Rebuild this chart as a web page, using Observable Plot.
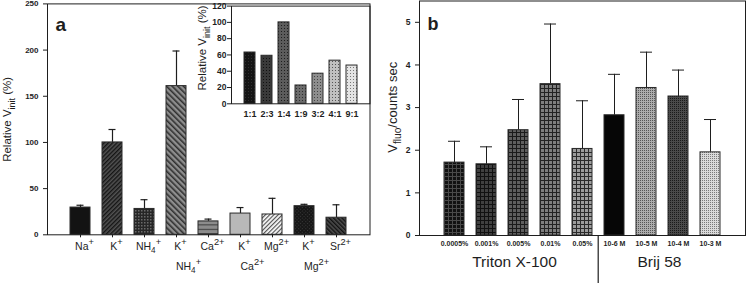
<!DOCTYPE html>
<html>
<head>
<meta charset="utf-8">
<script src="https://cdn.jsdelivr.net/npm/d3@7"></script>
<script src="https://cdn.jsdelivr.net/npm/@observablehq/plot@0.6"></script>
<style>
  html, body { margin: 0; padding: 0; background: #fff; }
  #wrap { position: relative; width: 746px; height: 283px; overflow: hidden; background: #fff; }
  .panel { position: absolute; top: 0; }
  svg { overflow: visible; }
</style>
</head>
<body>
<svg width="0" height="0" style="position:absolute">
  <defs>
    <!-- panel a -->
    <pattern id="aK" width="3" height="3" patternUnits="userSpaceOnUse" patternTransform="rotate(45)">
      <rect width="3" height="3" fill="#525252"/><line x1="0.7" y1="0" x2="0.7" y2="3" stroke="#151515" stroke-width="1.4"/>
    </pattern>
    <pattern id="aNH4" width="3" height="3" patternUnits="userSpaceOnUse">
      <rect width="3" height="3" fill="#262626"/><rect width="1.5" height="1.5" fill="#6a6a6a"/>
    </pattern>
    <pattern id="aKNH4" width="4" height="4" patternUnits="userSpaceOnUse" patternTransform="rotate(-45)">
      <rect width="4" height="4" fill="#8e8e8e"/><line x1="0.8" y1="0" x2="0.8" y2="4" stroke="#2a2a2a" stroke-width="1.5"/>
    </pattern>
    <pattern id="aCa" width="4" height="4.4" patternUnits="userSpaceOnUse">
      <rect width="4" height="4.4" fill="#8c8c8c"/><line x1="0" y1="0.5" x2="4" y2="0.5" stroke="#3a3a3a" stroke-width="1"/>
    </pattern>
    <pattern id="aMg" width="3" height="3" patternUnits="userSpaceOnUse" patternTransform="rotate(45)">
      <rect width="3" height="3" fill="#fafafa"/><line x1="0.6" y1="0" x2="0.6" y2="3" stroke="#4a4a4a" stroke-width="1.1"/>
    </pattern>
    <pattern id="aKMg" width="2.5" height="2.5" patternUnits="userSpaceOnUse" patternTransform="rotate(45)">
      <rect width="2.5" height="2.5" fill="#161616"/><rect width="1" height="1" fill="#3e3e3e"/>
    </pattern>
    <pattern id="aSr" width="3" height="3" patternUnits="userSpaceOnUse" patternTransform="rotate(-45)">
      <rect width="3" height="3" fill="#4e4e4e"/><line x1="0.7" y1="0" x2="0.7" y2="3" stroke="#121212" stroke-width="1.4"/>
    </pattern>
    <!-- inset -->
    <pattern id="i1" width="3" height="3" patternUnits="userSpaceOnUse"><rect width="3" height="3" fill="#141414"/><rect x="1" y="1" width="1" height="1" fill="#303030"/></pattern>
    <pattern id="i2" width="3" height="3" patternUnits="userSpaceOnUse"><rect width="3" height="3" fill="#3a3a3a"/><rect x="1" y="1" width="1" height="1" fill="#111"/></pattern>
    <pattern id="i3" width="3" height="3" patternUnits="userSpaceOnUse"><rect width="3" height="3" fill="#5c5c5c"/><rect x="1" y="1" width="1" height="1" fill="#1e1e1e"/></pattern>
    <pattern id="i4" width="3" height="3" patternUnits="userSpaceOnUse"><rect width="3" height="3" fill="#6c6c6c"/><rect x="1" y="1" width="1" height="1" fill="#2e2e2e"/></pattern>
    <pattern id="i5" width="3" height="3" patternUnits="userSpaceOnUse"><rect width="3" height="3" fill="#8e8e8e"/><rect x="1" y="1" width="1" height="1" fill="#444"/></pattern>
    <pattern id="i6" width="3" height="3" patternUnits="userSpaceOnUse"><rect width="3" height="3" fill="#c0c0c0"/><rect x="1" y="1" width="1" height="1" fill="#555"/></pattern>
    <pattern id="i7" width="3" height="3" patternUnits="userSpaceOnUse"><rect width="3" height="3" fill="#e4e4e4"/><rect x="1" y="1" width="1" height="1" fill="#777"/></pattern>
    <!-- panel b -->
    <pattern id="b1" width="4" height="4" patternUnits="userSpaceOnUse"><rect width="4" height="4" fill="#111"/><path d="M0.5 0V4M0 0.5H4" stroke="#4a4a4a" stroke-width="1"/></pattern>
    <pattern id="b2" width="4" height="4" patternUnits="userSpaceOnUse"><rect width="4" height="4" fill="#404040"/><path d="M0.5 0V4M0 0.5H4" stroke="#111" stroke-width="1"/></pattern>
    <pattern id="b3" width="4" height="4" patternUnits="userSpaceOnUse"><rect width="4" height="4" fill="#5e5e5e"/><path d="M0.5 0V4M0 0.5H4" stroke="#1a1a1a" stroke-width="1"/></pattern>
    <pattern id="b4" width="4" height="4" patternUnits="userSpaceOnUse"><rect width="4" height="4" fill="#7e7e7e"/><path d="M0.5 0V4M0 0.5H4" stroke="#222" stroke-width="1"/></pattern>
    <pattern id="b5" width="4" height="4" patternUnits="userSpaceOnUse"><rect width="4" height="4" fill="#9c9c9c"/><path d="M0.5 0V4M0 0.5H4" stroke="#2a2a2a" stroke-width="1"/></pattern>
    <pattern id="b7" width="2" height="2" patternUnits="userSpaceOnUse"><rect width="2" height="2" fill="#acacac"/><rect width="1" height="1" fill="#555"/></pattern>
    <pattern id="b8" width="2" height="2" patternUnits="userSpaceOnUse"><rect width="2" height="2" fill="#4a4a4a"/><rect width="1" height="1" fill="#1a1a1a"/></pattern>
    <pattern id="b9" width="2" height="2" patternUnits="userSpaceOnUse"><rect width="2" height="2" fill="#dadada"/><rect width="1" height="1" fill="#7a7a7a"/></pattern>
  </defs>
</svg>
<div id="wrap">
  <div class="panel" id="pa" style="left:0"></div>
  <div class="panel" id="pin" style="left:190px"></div>
  <div class="panel" id="pb" style="left:380px"></div>
</div>
<script>
// ---------- data: panel a ----------
const catsA = ["Na+", "K+", "NH4+", "K+ NH4+", "Ca2+", "K+ Ca2+", "Mg2+", "K+ Mg2+", "Sr2+"];
const labelsA1 = ["Na^{+}", "K^{+}", "NH_{4}^{+}", "K^{+}", "Ca^{2+}", "K^{+}", "Mg^{2+}", "K^{+}", "Sr^{2+}"];
const labelsA2 = ["", "", "", "NH_{4}^{+}", "", "Ca^{2+}", "", "Mg^{2+}", ""];
const valuesA = [29.5, 100, 28, 161, 14.5, 23, 22, 31, 18.5];
const errorsA = [2.5, 14, 10, 38, 2.5, 6.5, 17.5, 2, 14];
const ticksA = [0, 50, 100, 150, 200, 250];
const yLabelA = "Relative V_{init} (%)";

// ---------- data: inset ----------
const catsIn = ["1:1", "2:3", "1:4", "1:9", "3:2", "4:1", "9:1"];
const valuesIn = [63, 59, 100, 22.5, 37, 53, 47];
const ticksIn = [0, 20, 40, 60, 80, 100, 120];

// ---------- data: panel b ----------
const catsB = ["0.0005%", "0.001%", "0.005%", "0.01%", "0.05%", "10-6 M", "10-5 M", "10-4 M", "10-3 M"];
const valuesB = [1.71, 1.67, 2.47, 3.55, 2.03, 2.82, 3.46, 3.26, 1.95];
const errorsB = [0.50, 0.41, 0.72, 1.41, 1.13, 0.96, 0.84, 0.62, 0.77];
const ticksB = [0, 1, 2, 3, 4, 5];
const groupsB = ["Triton X-100", "Brij 58"];
const yLabelB = "V_{fluo}/counts sec";

// ---------- styles ----------
const fillsA = ["#131313", "url(#aK)", "url(#aNH4)", "url(#aKNH4)", "url(#aCa)", "#b8b8b8", "url(#aMg)", "url(#aKMg)", "url(#aSr)"];
const fillsIn = ["url(#i1)", "url(#i2)", "url(#i3)", "url(#i4)", "url(#i5)", "url(#i6)", "url(#i7)"];
const fillsB = ["url(#b1)", "url(#b2)", "url(#b3)", "url(#b4)", "url(#b5)", "#060606", "url(#b7)", "url(#b8)", "url(#b9)"];
const FONT = "'Liberation Sans', Arial, sans-serif";
const INK = "#1e1e1e";

const dataA = catsA.map((c, i) => ({cat: c, v: valuesA[i], e: errorsA[i], l1: labelsA1[i], l2: labelsA2[i]}));
const dataIn = catsIn.map((c, i) => ({cat: c, v: valuesIn[i]}));
const dataB = catsB.map((c, i) => ({cat: c, v: valuesB[i], e: errorsB[i]}));

const baseStyle = {fontFamily: FONT, fontSize: "10px", color: INK, background: "transparent", overflow: "visible"};

function richify(svg) {
  d3.select(svg).selectAll("text").each(function () {
    const s = this.textContent;
    if (!/[_^]\{/.test(s)) return;
    const fs = parseFloat(getComputedStyle(this).fontSize) || 10;
    const t = d3.select(this);
    t.text(null);
    let shift = 0;
    for (const part of s.split(/([_^]\{[^}]*\})/)) {
      if (!part) continue;
      let txt = part, target = 0, size = null;
      if (part.startsWith("_{")) { txt = part.slice(2, -1); target = 0.3 * fs; size = 0.78 * fs; }
      else if (part.startsWith("^{")) { txt = part.slice(2, -1); target = -0.5 * fs; size = 0.88 * fs; }
      const ts = t.append("tspan").attr("dy", target - shift).text(txt);
      if (size) ts.attr("font-size", size);
      shift = target;
    }
  });
}

// ---------- panel a ----------
const plotA = Plot.plot({
  width: 380, height: 283,
  marginLeft: 47, marginRight: 10.5, marginTop: 3.4, marginBottom: 48.7,
  style: baseStyle,
  x: {domain: catsA, paddingInner: 0.385, paddingOuter: 0.66, axis: null},
  y: {domain: [0, 250], axis: null},
  color: {domain: catsA, range: fillsA},
  marks: [
    Plot.ruleX(dataA, {x: "cat", y1: "v", y2: d => d.v + d.e, stroke: INK, strokeWidth: 1.2}),
    Plot.tickY(dataA, {x: "cat", y: d => d.v + d.e, stroke: INK, strokeWidth: 1.2, insetLeft: 6.5, insetRight: 6.5}),
    Plot.barY(dataA, {x: "cat", y: "v", fill: "cat", stroke: "#2a2a2a", strokeWidth: 1}),
    Plot.axisX({tickSize: 3, tickFormat: () => "", label: null, stroke: INK}),
    Plot.axisY({ticks: ticksA, tickSize: 4, tickPadding: 5, fontSize: 8, fontWeight: "bold", label: null, stroke: INK}),
    Plot.frame({stroke: INK, strokeWidth: 1}),
    Plot.text(dataA, {x: "cat", text: "l1", frameAnchor: "bottom", dy: 15, dx: 4, fontSize: 10.5}),
    Plot.text(dataA.filter(d => d.l2), {x: "cat", text: "l2", frameAnchor: "bottom", dy: 35, dx: 12, fontSize: 10.5}),
    Plot.text([yLabelA], {text: d => d, frameAnchor: "left", textAnchor: "middle", rotate: -90, dx: -40, fontSize: 11.5}),
    Plot.text(["a"], {text: d => d, frameAnchor: "top-left", textAnchor: "start", dx: 8, dy: 13.6, fontSize: 19, fontWeight: "bold"})
  ]
});
document.getElementById("pa").append(plotA);
richify(plotA);

// ---------- inset ----------
const plotIn = Plot.plot({
  width: 185, height: 125,
  marginLeft: 41, marginRight: 5.5, marginTop: 5.6, marginBottom: 21.7,
  style: baseStyle,
  x: {domain: catsIn, paddingInner: 0.371, paddingOuter: 0.628, axis: null},
  y: {domain: [0, 120], axis: null},
  color: {domain: catsIn, range: fillsIn},
  marks: [
    Plot.barY(dataIn, {x: "cat", y: "v", fill: "cat", stroke: "#2a2a2a", strokeWidth: 1}),
    Plot.axisX({tickSize: 0, tickPadding: 7, fontSize: 9, fontWeight: "bold", label: null}),
    Plot.axisY({ticks: ticksIn, tickSize: 4, tickPadding: 1, fontSize: 8.5, fontWeight: "bold", label: null, stroke: INK}),
    Plot.frame({stroke: INK, strokeWidth: 1}),
    Plot.text([yLabelA], {text: d => d, frameAnchor: "left", textAnchor: "middle", rotate: -90, dx: -29, dy: -7, fontSize: 11.5})
  ]
});
document.getElementById("pin").append(plotIn);
richify(plotIn);

// ---------- panel b ----------
const plotB = Plot.plot({
  width: 366, height: 283,
  marginLeft: 39, marginRight: 1, marginTop: 0.5, marginBottom: 48,
  style: baseStyle,
  x: {domain: catsB, paddingInner: 0.373, paddingOuter: 0.67, axis: null},
  y: {domain: [0, 5.5], axis: null},
  color: {domain: catsB, range: fillsB},
  marks: [
    Plot.ruleX(dataB, {x: "cat", y1: "v", y2: d => d.v + d.e, stroke: INK, strokeWidth: 1}),
    Plot.tickY(dataB, {x: "cat", y: d => d.v + d.e, stroke: INK, strokeWidth: 1, insetLeft: 4, insetRight: 4}),
    Plot.barY(dataB, {x: "cat", y: "v", fill: "cat", stroke: "#2a2a2a", strokeWidth: 1}),
    Plot.axisX({tickSize: 0, tickPadding: 6, fontSize: 7, fontWeight: "bold", label: null}),
    Plot.axisY({ticks: ticksB, tickFormat: d3.format("d"), tickSize: 4, tickPadding: 5, fontSize: 8.5, fontWeight: "bold", label: null, stroke: INK}),
    Plot.frame({stroke: INK, strokeWidth: 1}),
    Plot.ruleX([catsB[5]], {x: d => d, dx: -16.3, insetTop: 234.5, insetBottom: -48, stroke: INK, strokeWidth: 1.2}),
    Plot.text([groupsB[0]], {text: d => d, x: () => catsB[2], frameAnchor: "bottom", dy: 31, dx: -4, fontSize: 15.5}),
    Plot.text([groupsB[1]], {text: d => d, x: () => catsB[6], frameAnchor: "bottom", dy: 31, dx: 13, fontSize: 15.5}),
    Plot.text([yLabelB], {text: d => d, frameAnchor: "left", textAnchor: "middle", rotate: -90, dx: -27, dy: -11, fontSize: 13}),
    Plot.text(["b"], {text: d => d, frameAnchor: "top-left", textAnchor: "start", dx: 8, dy: 16.4, fontSize: 18, fontWeight: "bold"})
  ]
});
document.getElementById("pb").append(plotB);
richify(plotB);
</script>
</body>
</html>
